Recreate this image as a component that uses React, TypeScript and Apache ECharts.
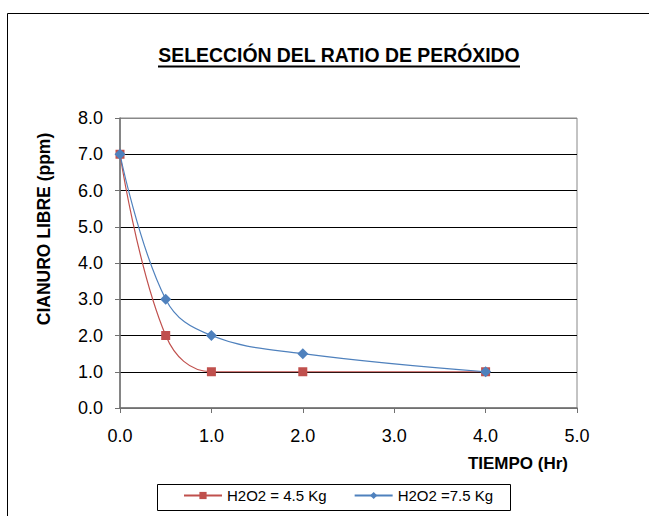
import React, { useEffect, useRef } from "react";
import * as echarts from "echarts";

const timeHours = [0, 0.5, 1, 2, 4];
const seriesLowName = "H2O2 = 4.5 Kg";
const seriesLowValues = [7, 2, 1, 1, 1];
const seriesHighName = "H2O2 =7.5 Kg";
const seriesHighValues = [7, 3, 2, 1.5, 1];
const chartTitle = "SELECCIÓN DEL RATIO DE PERÓXIDO";
const yAxisTitle = "CIANURO LIBRE (ppm)";
const xAxisTitle = "TIEMPO (Hr)";

const FONT = "'Liberation Sans', Arial, sans-serif";

export default function App() {
  const ref = useRef<HTMLDivElement>(null);
  useEffect(() => {
    if (!ref.current) return;
    const chart = echarts.init(ref.current, undefined, { renderer: "svg" });
    const pair = (xs: number[], ys: number[]) => xs.map((x, i) => [x, ys[i]]);
    chart.setOption({
      animation: false,
      backgroundColor: "#fff",
      textStyle: { fontFamily: FONT },
      grid: {
        left: 120,
        right: 72,
        top: 118,
        bottom: 108,
        show: true,
        borderColor: "#888",
        borderWidth: 1,
      },
      xAxis: {
        type: "value",
        min: 0,
        max: 5,
        interval: 1,
        axisLine: { show: true, lineStyle: { color: "#707070", width: 1.5 } },
        axisTick: { show: true, length: 5, lineStyle: { color: "#707070" } },
        splitLine: { show: false },
        axisLabel: {
          color: "#000",
          fontSize: 18,
          fontFamily: FONT,
          margin: 19,
          formatter: (v: number) => v.toFixed(1),
        },
      },
      yAxis: {
        type: "value",
        min: 0,
        max: 8,
        interval: 1,
        axisLine: { show: true, lineStyle: { color: "#707070", width: 1.5 } },
        axisTick: { show: true, length: 5, lineStyle: { color: "#707070" } },
        splitLine: {
          show: true,
          lineStyle: {
            color: ["#707070", "#000", "#000", "#000", "#000", "#000", "#000", "#000", "#888"],
            width: 1,
          },
        },
        axisLabel: {
          color: "#000",
          fontSize: 18,
          fontFamily: FONT,
          margin: 17,
          formatter: (v: number) => v.toFixed(1),
        },
      },
      legend: {
        left: 183,
        top: 488,
        padding: 0,
        itemWidth: 38,
        itemHeight: 9,
        itemGap: 27,
        textStyle: { fontSize: 15, fontFamily: FONT, color: "#000", padding: [0, 0, 0, 0] },
        data: [seriesLowName, seriesHighName],
      },
      series: [
        {
          name: seriesLowName,
          type: "line",
          data: pair(timeHours, seriesLowValues),
          smooth: 0.4,
          symbol: "rect",
          symbolSize: 9,
          color: "#C0504D",
          lineStyle: { color: "#C0504D", width: 1.2 },
          itemStyle: { color: "#C0504D" },
        },
        {
          name: seriesHighName,
          type: "line",
          data: pair(timeHours, seriesHighValues),
          smooth: 0.4,
          symbol: "diamond",
          symbolSize: 11,
          color: "#4F81BD",
          lineStyle: { color: "#4F81BD", width: 1.2 },
          itemStyle: { color: "#4F81BD" },
        },
      ],
      graphic: [
        {
          type: "rect",
          shape: { x: 7.5, y: 13.5, width: 700, height: 600 },
          style: { fill: "none", stroke: "#000", lineWidth: 1 },
          silent: true,
        },
        {
          type: "text",
          x: 339,
          y: 55,
          style: {
            text: chartTitle,
            fontSize: 19.4,
            fontWeight: "bold",
            fontFamily: FONT,
            fill: "#000",
            textAlign: "center",
            textVerticalAlign: "middle",
          },
        },
        {
          type: "line",
          shape: { x1: 158, y1: 66.5, x2: 520, y2: 66.5 },
          style: { stroke: "#000", lineWidth: 2 },
          silent: true,
        },
        {
          type: "text",
          x: 44,
          y: 229,
          rotation: Math.PI / 2,
          style: {
            text: yAxisTitle,
            fontSize: 17.5,
            fontWeight: "bold",
            fontFamily: FONT,
            fill: "#000",
            textAlign: "center",
            textVerticalAlign: "middle",
          },
        },
        {
          type: "text",
          x: 568,
          y: 463,
          style: {
            text: xAxisTitle,
            fontSize: 17,
            fontWeight: "bold",
            fontFamily: FONT,
            fill: "#000",
            textAlign: "right",
            textVerticalAlign: "middle",
          },
        },
        {
          type: "rect",
          shape: { x: 157.5, y: 484.5, width: 353, height: 26 },
          style: { fill: "none", stroke: "#000", lineWidth: 1 },
          silent: true,
        },
      ],
    });
    return () => chart.dispose();
  }, []);
  return (
    <div
      ref={ref}
      style={{ position: "fixed", left: 0, top: 0, width: 649, height: 516 }}
    />
  );
}
